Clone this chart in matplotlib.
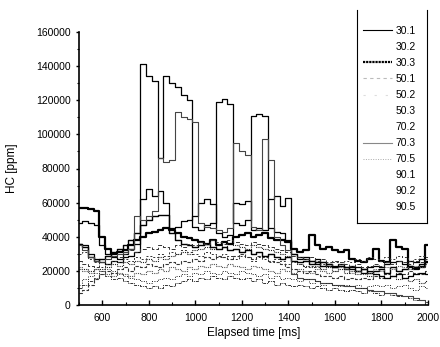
import numpy as np
import matplotlib.pyplot as plt
from matplotlib.lines import Line2D
from matplotlib.ticker import MultipleLocator, StrMethodFormatter

plt.rcParams['font.family'] = ['Liberation Sans', 'DejaVu Sans']

# =====================
# DATA (HC in 1000 ppm, sampled every 25 ms)
# =====================
time_ms = list(range(500, 2001, 25))

hc_30_1 = [36, 35, 30, 27, 25, 24, 26, 25, 28, 29,
           31, 141, 134, 131, 86, 134, 130, 128, 123, 120,
           46, 44, 47, 48, 119, 121, 118, 48, 47, 50,
           111, 112, 111, 45, 43, 42, 38, 30, 27, 28,
           26, 27, 25, 24, 23, 23, 22, 23, 22, 21,
           22, 23, 22, 24, 25, 26, 24, 26, 25, 27,
           26]
hc_30_2 = [21, 21, 20, 21, 21, 22, 24, 23, 25, 24,
           26, 25, 27, 26, 28, 27, 29, 30, 31, 30,
           32, 33, 34, 33, 35, 34, 36, 35, 34, 33,
           35, 34, 33, 32, 31, 30, 29, 26, 24, 23,
           22, 23, 21, 22, 20, 21, 19, 20, 18, 19,
           17, 18, 17, 16, 17, 15, 16, 14, 15, 13,
           14]
hc_30_3 = [57, 57, 56, 55, 40, 33, 30, 31, 32, 35,
           38, 40, 42, 43, 44, 45, 44, 42, 40, 39,
           38, 37, 36, 38, 35, 37, 36, 40, 41, 42,
           40, 41, 42, 39, 38, 38, 37, 33, 31, 32,
           41, 35, 33, 34, 32, 31, 32, 27, 26, 25,
           27, 33, 26, 25, 38, 34, 33, 22, 21, 22,
           35]
hc_50_1 = [7, 9, 12, 15, 18, 20, 19, 21, 22, 20,
           23, 22, 24, 23, 22, 24, 25, 24, 26, 25,
           27, 26, 28, 27, 29, 28, 27, 29, 30, 28,
           27, 29, 28, 26, 25, 24, 22, 21, 20, 19,
           20, 18, 17, 17, 16, 17, 15, 16, 15, 16,
           15, 17, 16, 18, 17, 19, 18, 20, 19, 18,
           20]
hc_50_2 = [48, 49, 48, 47, 35, 30, 28, 27, 30, 33,
           36, 62, 68, 64, 67, 60, 45, 46, 49, 50,
           52, 60, 62, 59, 42, 40, 41, 60, 59, 61,
           44, 45, 44, 62, 64, 58, 63, 30, 28, 27,
           26, 24, 25, 23, 22, 24, 22, 21, 20, 19,
           20, 18, 17, 16, 17, 18, 16, 17, 18, 19,
           18]
hc_50_3 = [36, 34, 28, 26, 27, 29, 31, 33, 35, 38,
           42, 47, 50, 52, 53, 53, 42, 38, 36, 35,
           34, 35, 36, 34, 33, 34, 32, 33, 31, 32,
           30, 31, 29, 30, 28, 27, 28, 26, 25, 26,
           24, 25, 23, 24, 22, 23, 21, 22, 20, 21,
           19, 20, 21, 19, 22, 20, 21, 23, 22, 24,
           25]
hc_70_2 = [10, 12, 14, 16, 18, 17, 15, 16, 14, 13,
           12, 11, 10, 11, 10, 12, 11, 13, 14, 15,
           14, 16, 15, 17, 16, 15, 17, 16, 15, 16,
           14, 15, 13, 14, 12, 13, 12, 11, 12, 11,
           10, 11, 10, 9, 10, 9, 8, 9, 8, 7,
           8, 7, 6, 7, 6, 5, 5, 4, 3, 3,
           2]
hc_70_3 = [35, 32, 28, 26, 25, 27, 29, 30, 31, 33,
           52, 50, 52, 55, 86, 84, 85, 113, 110, 109,
           107, 48, 46, 45, 44, 43, 45, 95, 90, 88,
           46, 44, 97, 85, 40, 35, 32, 18, 16, 15,
           15, 14, 13, 13, 12, 12, 11, 11, 10, 10,
           9, 8, 8, 7, 7, 6, 5, 5, 4, 3,
           0]
hc_70_5 = [22, 20, 19, 21, 20, 18, 17, 19, 18, 17,
           19, 18, 20, 19, 21, 20, 22, 21, 20, 22,
           21, 23, 22, 24, 23, 22, 24, 23, 22, 21,
           23, 22, 21, 20, 19, 21, 20, 19, 21, 20,
           19, 21, 20, 19, 20, 22, 21, 19, 20, 18,
           19, 21, 20, 22, 21, 23, 22, 21, 23, 22,
           24]
hc_90_1 = [30, 31, 27, 25, 22, 24, 26, 25, 27, 26,
           28, 27, 29, 28, 30, 29, 31, 30, 32, 31,
           30, 29, 31, 30, 28, 30, 29, 27, 29, 28,
           26, 28, 27, 25, 27, 26, 24, 25, 24, 22,
           23, 22, 24, 23, 25, 24, 26, 25, 27, 26,
           28, 27, 26, 28, 27, 29, 28, 26, 27, 29,
           28]
hc_90_2 = [12, 15, 17, 19, 20, 21, 20, 18, 17, 16,
           15, 14, 13, 14, 15, 16, 15, 17, 18, 17,
           19, 18, 20, 19, 18, 20, 19, 18, 20, 19,
           18, 17, 18, 16, 17, 15, 16, 15, 14, 15,
           13, 14, 12, 13, 12, 11, 12, 11, 12, 10,
           11, 12, 11, 12, 10, 11, 12, 10, 9, 11,
           10]
hc_90_5 = [26, 24, 23, 22, 25, 27, 29, 28, 30, 32,
           31, 33, 34, 33, 35, 34, 33, 35, 34, 36,
           35, 37, 36, 38, 37, 36, 38, 37, 36, 35,
           37, 36, 35, 34, 33, 32, 31, 29, 28, 27,
           28, 26, 27, 25, 26, 25, 24, 23, 24, 22,
           23, 24, 23, 25, 24, 26, 25, 24, 26, 25,
           27]

labels = ["30.1", "30.2", "30.3", "50.1", "50.2", "50.3",
          "70.2", "70.3", "70.5", "90.1", "90.2", "90.5"]
series = [hc_30_1, hc_30_2, hc_30_3, hc_50_1, hc_50_2, hc_50_3,
          hc_70_2, hc_70_3, hc_70_5, hc_90_1, hc_90_2, hc_90_5]

# line look in the plot area (scan makes them all dark)
plot_styles = [
    dict(color="black", lw=0.9, ls="-"),
    dict(color="#222222", lw=0.8, ls=(0, (1, 1))),
    dict(color="black", lw=1.6, ls="-"),
    dict(color="#333333", lw=0.8, ls=(0, (3, 1.5))),
    dict(color="black", lw=0.9, ls="-"),
    dict(color="black", lw=1.0, ls="-"),
    dict(color="#333333", lw=0.7, ls=(0, (3, 1, 1, 1))),
    dict(color="#444444", lw=0.8, ls="-"),
    dict(color="#555555", lw=0.8, ls=(0, (1, 1))),
    dict(color="#333333", lw=0.7, ls=(0, (2, 2))),
    dict(color="#222222", lw=0.7, ls=(0, (1, 1.5))),
    dict(color="#333333", lw=0.7, ls=(0, (4, 2))),
]

# legend samples as they appear in the scanned legend
legend_styles = [
    dict(color="black", lw=0.8, ls="-"),
    dict(color="none"),
    dict(color="black", lw=1.6, ls=(0, (1, 0.4))),
    dict(color="#bbbbbb", lw=0.8, ls=(0, (3, 3))),
    dict(color="#dddddd", lw=0.8, ls=(0, (2, 8))),
    dict(color="none"),
    dict(color="none"),
    dict(color="#888888", lw=0.8, ls="-"),
    dict(color="#aaaaaa", lw=0.7, ls=(0, (1, 1.5))),
    dict(color="none"),
    dict(color="none"),
    dict(color="none"),
]

# =====================
# PLOT
# =====================
fig = plt.figure(figsize=(4.4, 3.47), dpi=100)
ax = fig.add_axes([79 / 440, 1 - 305 / 347, 349 / 440, 273 / 347])

for vals, st in zip(series, plot_styles):
    ax.plot(time_ms, np.array(vals) * 1000, drawstyle="steps-mid", **st)

ax.set_xlim(500, 2000)
ax.set_ylim(0, 160000)
ax.set_xticks(range(600, 2001, 200))
ax.set_yticks(range(0, 160001, 20000))
ax.xaxis.set_minor_locator(MultipleLocator(100))
ax.yaxis.set_minor_locator(MultipleLocator(10000))
ax.yaxis.set_major_formatter(StrMethodFormatter("{x:.0f}"))

for s in ["top", "right"]:
    ax.spines[s].set_visible(False)
for s in ["left", "bottom"]:
    ax.spines[s].set_linewidth(1.2)

ax.tick_params(axis="x", which="major", direction="in", length=3.5, width=1, pad=5.5, labelsize=7.5)
ax.tick_params(axis="x", which="minor", direction="in", length=2, width=0.8)
ax.tick_params(axis="y", which="major", direction="out", length=2.5, width=1, pad=3.5, labelsize=7.5)
ax.tick_params(axis="y", which="minor", direction="out", length=1.5, width=0.8)

ax.set_xlabel("Elapsed time [ms]", fontsize=8.5, va="center")
ax.set_ylabel("HC [ppm]", fontsize=8.5, va="center")
ax.xaxis.set_label_coords(0.5, -0.102)
ax.yaxis.set_label_coords(-0.192, 0.5)

handles = [Line2D([0], [0], **st) for st in legend_styles]
fig.legend(handles, labels, loc="upper left",
           bbox_to_anchor=(363 / 440, 1 - 26 / 347),
           frameon=False, borderpad=0, borderaxespad=0,
           handlelength=2.8, handletextpad=0.3, labelspacing=0.58,
           fontsize=7.5)

# legend box (top edge lost in the scan)
bx0, bx1 = 357 / 440, 427 / 440
by0, by1 = 1 - 10 / 347, 1 - 223 / 347
for xs, ys in [([bx0, bx0], [by0, by1]), ([bx1, bx1], [by0, by1]), ([bx0, bx1], [by1, by1])]:
    fig.add_artist(Line2D(xs, ys, transform=fig.transFigure, color="black", lw=0.8))

fig.savefig("out.png", dpi=100)
